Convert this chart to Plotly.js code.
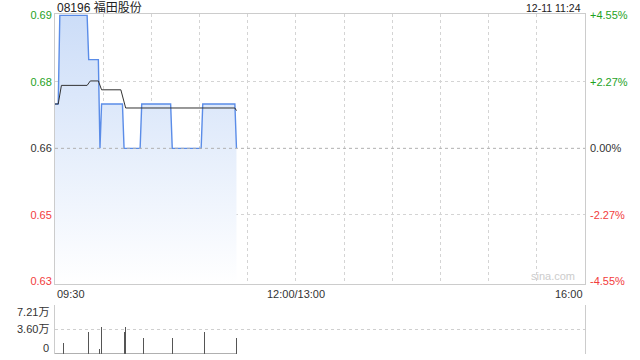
<!DOCTYPE html>
<html>
<head>
<meta charset="utf-8">
<script src="https://cdn.plot.ly/plotly-3.0.1.min.js"></script>
<style>html,body{margin:0;padding:0;background:#fff;}#chart{width:640px;height:360px;}</style>
</head>
<body>
<div id="chart"></div>
<script>
// ---- data ----
const stockTitle = '08196 福田股份';
const stamp = '12-11 11:24';
const prevClose = 0.66;
const priceMinutes = [0, 2, 3, 20, 21, 27, 28, 29, 42, 43, 53, 54, 72, 73, 91, 92, 112, 113];
const prices = [0.67, 0.67, 0.69, 0.69, 0.68, 0.68, 0.66, 0.67, 0.67, 0.66, 0.66, 0.67, 0.67, 0.66, 0.66, 0.67, 0.67, 0.66];
const avgMinutes = [0, 2, 4, 20, 22, 27, 29, 41, 44, 112, 113];
const avgPrices = [0.67, 0.67, 0.6742, 0.6742, 0.6752, 0.6752, 0.6732, 0.6732, 0.6691, 0.6691, 0.6685];
const volMinutes = [0, 5, 21, 28, 29, 43, 44, 55, 73, 93, 113];
const volumes = [72100, 16000, 32000, 8000, 40000, 32000, 40000, 24000, 24000, 32000, 24000];
const priceTickVals = [0.63, 0.645, 0.66, 0.675, 0.69];
const priceTickText = ['0.63', '0.65', '0.66', '0.68', '0.69'];
const pctTickText = ['-4.55%', '-2.27%', '0.00%', '+2.27%', '+4.55%'];
const timeLabelMinutes = [0, 150, 330];
const timeLabels = ['09:30', '12:00/13:00', '16:00'];
const volTickVals = [0, 36050, 72100];
const volTickText = ['0', '3.60万', '7.21万'];
const sessionMinutes = 330;

// ---- styling ----
const FONT = 'Liberation Sans, Arial, Noto Sans CJK SC, sans-serif';
const GREEN = '#1ea21e', RED = '#f23c3c', DARK = '#333333';
function tickColor(v) { return v > prevClose + 1e-9 ? GREEN : (v < prevClose - 1e-9 ? RED : DARK); }
const leftText = priceTickText.map((t, i) => '<span style="color:' + tickColor(priceTickVals[i]) + '">' + t + '</span>');
const rightText = pctTickText.map((t, i) => '<span style="color:' + tickColor(priceTickVals[i]) + '">' + t + '</span>');
const gridMinutes = [];
for (let m = 0; m <= sessionMinutes; m += 30) gridMinutes.push(m);

const yRange = [0.6294, 0.6903];

const traces = [
  {
    x: priceMinutes, y: prices, type: 'scatter', mode: 'lines',
    xaxis: 'x', yaxis: 'y',
    line: { color: '#5a8ce8', width: 1.4 },
    fill: 'tozeroy',
    fillgradient: { type: 'vertical', start: yRange[0], stop: 0.69,
      colorscale: [[0, 'rgb(255,255,255)'], [1, 'rgb(204,221,248)']] },
    hoverinfo: 'skip'
  },
  {
    x: avgMinutes, y: avgPrices, type: 'scatter', mode: 'lines',
    xaxis: 'x', yaxis: 'y',
    line: { color: '#333333', width: 1 },
    hoverinfo: 'skip'
  },
  {
    // carrier for the right-hand percentage axis (invisible)
    x: priceMinutes, y: prices, type: 'scatter', mode: 'lines',
    xaxis: 'x', yaxis: 'y3', opacity: 0,
    line: { color: 'rgba(0,0,0,0)', width: 0 },
    hoverinfo: 'skip'
  },
  {
    x: volMinutes, y: volumes, type: 'bar', width: 0.6,
    xaxis: 'x2', yaxis: 'y2',
    marker: { color: '#555555', line: { width: 0 } },
    hoverinfo: 'skip'
  },
  {
    x: [volMinutes[0], volMinutes[volMinutes.length - 1]], y: [0, 0],
    type: 'scatter', mode: 'lines', xaxis: 'x2', yaxis: 'y2',
    line: { color: '#666666', width: 1 }, hoverinfo: 'skip'
  }
];

const annotations = [];
timeLabels.forEach((t, i) => {
  annotations.push({
    text: t, xref: 'x', x: timeLabelMinutes[i], yref: 'paper', y: 0.20588,
    xanchor: i === 0 ? 'left' : (i === timeLabels.length - 1 ? 'right' : 'center'),
    yanchor: 'top', yshift: -2, showarrow: false,
    font: { family: FONT, size: 11, color: DARK }
  });
});
const volShift = [6, 0, -7];
volTickText.forEach((t, i) => {
  annotations.push({
    text: t, xref: 'paper', x: 0, xanchor: 'right', xshift: -4,
    yref: 'y2', y: volTickVals[i], yanchor: 'middle', yshift: volShift[i],
    showarrow: false, font: { family: FONT, size: 11, color: DARK }
  });
});
annotations.push({
  text: stockTitle, xref: 'paper', x: 0, xanchor: 'left', yref: 'paper', y: 1,
  yanchor: 'bottom', yshift: -3, showarrow: false,
  font: { family: FONT, size: 12, color: '#222222' }
});
annotations.push({
  text: stamp, xref: 'paper', x: 1, xanchor: 'right', xshift: -2, yref: 'paper', y: 1,
  yanchor: 'bottom', yshift: -2, showarrow: false,
  font: { family: FONT, size: 10.5, color: '#222222' }
});
annotations.push({
  text: 'sina.com', xref: 'paper', x: 0.985, xanchor: 'right', yref: 'paper', y: 0.20588,
  yanchor: 'bottom', yshift: 0, showarrow: false,
  font: { family: FONT, size: 11, color: '#cccccc' }
});

const layout = {
  width: 640, height: 360,
  margin: { l: 55, r: 55, t: 14, b: 6, pad: 0 },
  paper_bgcolor: '#ffffff', plot_bgcolor: '#ffffff',
  showlegend: false,
  font: { family: FONT, size: 11, color: DARK },
  bargap: 0,
  xaxis: {
    anchor: 'y', domain: [0, 1], range: [0, sessionMinutes],
    tickmode: 'array', tickvals: gridMinutes, showticklabels: false, ticks: '',
    showgrid: true, gridcolor: '#d4d4d4', griddash: 'dot', gridwidth: 1,
    showline: true, mirror: true, linecolor: '#cccccc', linewidth: 1,
    zeroline: false, fixedrange: true
  },
  yaxis: {
    domain: [0.20588, 1], range: yRange,
    tickmode: 'array', tickvals: priceTickVals, ticktext: leftText, ticks: '',
    showgrid: false,
    minor: { tickmode: 'array', tickvals: [0.645, 0.675], showgrid: true, gridcolor: '#d4d4d4', griddash: 'dot', ticks: '' },
    showline: true, mirror: true, linecolor: '#cccccc', linewidth: 1,
    zeroline: false, fixedrange: true,
    tickfont: { family: FONT, size: 11 }
  },
  yaxis3: {
    overlaying: 'y', side: 'right', anchor: 'x', range: yRange,
    tickmode: 'array', tickvals: priceTickVals, ticktext: rightText, ticks: '',
    ticklabelstandoff: 4,
    showgrid: false, showline: false, zeroline: false, fixedrange: true,
    tickfont: { family: FONT, size: 11 }
  },
  xaxis2: {
    anchor: 'y2', domain: [0, 1], matches: 'x', range: [0, sessionMinutes],
    showticklabels: false, showgrid: false, showline: false, zeroline: false, ticks: '', fixedrange: true
  },
  yaxis2: {
    anchor: 'x2', domain: [0, 0.14412], range: [0, volTickVals[2]],
    showticklabels: false, ticks: '', showgrid: false,
    minor: { tickmode: 'array', tickvals: volTickVals, showgrid: true, gridcolor: '#cfcfcf', griddash: 'dot', ticks: '' },
    showline: true, mirror: true, linecolor: '#cccccc', linewidth: 1,
    zeroline: false, fixedrange: true
  },
  shapes: [
    { type: 'line', xref: 'paper', x0: 0, x1: 1, yref: 'y', y0: prevClose, y1: prevClose,
      line: { color: '#b0b0b0', width: 1, dash: '3px,3px' }, layer: 'above' }
  ],
  annotations: annotations
};

Plotly.newPlot('chart', traces, layout, { displayModeBar: false, staticPlot: true });
</script>
</body>
</html>
